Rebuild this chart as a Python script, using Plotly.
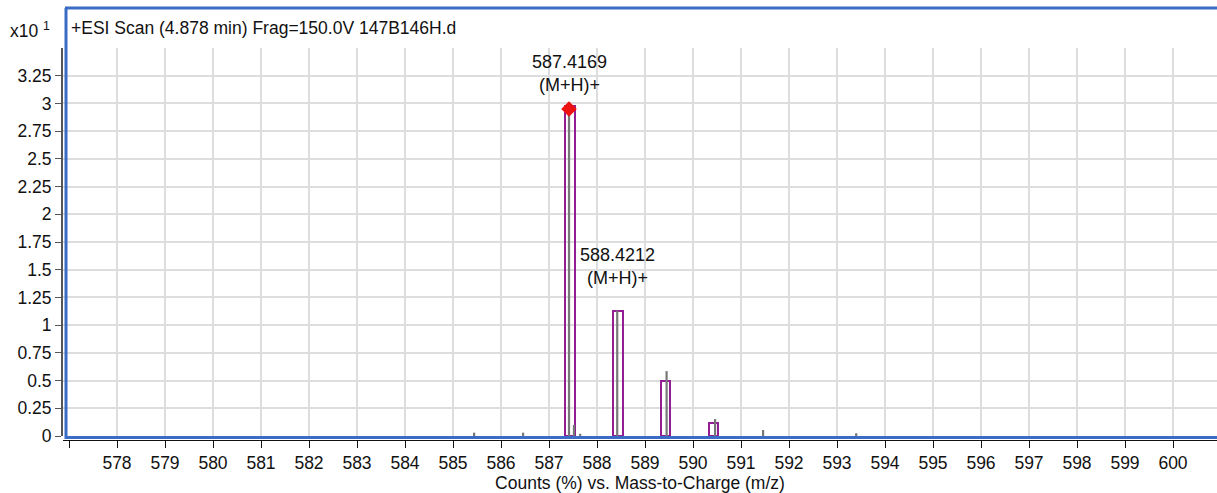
import plotly.graph_objects as go

# Observed centroid sticks (m/z, counts x10^1)
stick_mz = [585.44, 586.46, 587.4169, 587.52, 587.65, 588.4212, 589.45, 590.46, 591.46, 593.40]
stick_counts = [0.03, 0.03, 2.98, 0.10, 0.02, 1.13, 0.585, 0.153, 0.054, 0.025]

# Predicted isotope pattern boxes
iso_mz = [587.44, 588.44, 589.43, 590.43]
iso_counts = [2.98, 1.13, 0.50, 0.12]

# Labelled peaks
label_mz = [587.4169, 588.4212]
label_counts = [2.98, 1.13]
label_text = ["587.4169<br>(M+H)+", "588.4212<br>(M+H)+"]
label_shift = [9, 21]

x_ticks = list(range(578, 601))
y_ticks = [0, 0.25, 0.5, 0.75, 1, 1.25, 1.5, 1.75, 2, 2.25, 2.5, 2.75, 3, 3.25]
y_ticktext = ["0", "0.25", "0.5", "0.75", "1", "1.25", "1.5", "1.75", "2", "2.25",
              "2.5", "2.75", "3", "3.25"]

title_text = "+ESI Scan (4.878 min) Frag=150.0V 147B146H.d"
x_title = "Counts (%) vs. Mass-to-Charge (m/z)"

FONT = "Liberation Sans, Arial, Helvetica, sans-serif"
BLUE = "#3a6cc6"
PURPLE = "#931d93"
GRID = "#dddddd"
FS = 17.5

W, H = 1217, 493
ML, MR, MT, MB = 63, 0, 48, 53
PW, PH = W - ML - MR, H - MT - MB


def px_x(p):
    return (p - ML) / PW


def px_y(p):
    return (H - MB - p) / PH


fig = go.Figure()

fig.add_trace(go.Bar(
    x=iso_mz, y=iso_counts, width=0.2,
    marker=dict(color="rgba(0,0,0,0)", line=dict(color=PURPLE, width=2)),
    hoverinfo="skip", showlegend=False,
))

sx, sy = [], []
for m, c in zip(stick_mz, stick_counts):
    sx += [m, m, None]
    sy += [0, c, None]
fig.add_trace(go.Scatter(
    x=sx, y=sy, mode="lines",
    line=dict(color="#777777", width=2.2),
    hoverinfo="skip", showlegend=False,
))

fig.add_trace(go.Scatter(
    x=[label_mz[0]], y=[label_counts[0] - 0.03], mode="markers",
    marker=dict(symbol="diamond", size=12, color="#ee1111"),
    hoverinfo="skip", showlegend=False,
))

for m, c, t, s in zip(label_mz, label_counts, label_text, label_shift):
    fig.add_annotation(
        x=m, y=c, text=t, showarrow=False, yanchor="bottom", xanchor="center",
        yshift=s, font=dict(family=FONT, size=18, color="#111111"),
    )

# Blue frame around the scan panel (left, top, bottom)
fig.add_shape(type="line", xref="paper", yref="paper",
              x0=px_x(66), x1=px_x(66), y0=px_y(8), y1=px_y(439),
              line=dict(color=BLUE, width=3))
fig.add_shape(type="line", xref="paper", yref="paper",
              x0=px_x(65), x1=1.0, y0=px_y(8), y1=px_y(8),
              line=dict(color=BLUE, width=3))
fig.add_shape(type="line", xref="paper", yref="paper",
              x0=px_x(65), x1=1.0, y0=px_y(437.5), y1=px_y(437.5),
              line=dict(color=BLUE, width=3))

fig.add_annotation(
    xref="paper", yref="paper", x=px_x(69), y=px_y(28),
    xanchor="left", yanchor="middle", showarrow=False, text=title_text,
    font=dict(family=FONT, size=FS, color="#111111"),
)
fig.add_annotation(
    xref="paper", yref="paper", x=px_x(8), y=px_y(30),
    xanchor="left", yanchor="middle", showarrow=False,
    text="x10 <sup>1</sup>",
    font=dict(family=FONT, size=FS, color="#111111"),
)

x0 = 577 - 6 / 48
x1 = x0 + PW / 48

fig.update_layout(
    width=W, height=H,
    margin=dict(l=ML, r=MR, t=MT, b=MB),
    paper_bgcolor="white", plot_bgcolor="white",
    font=dict(family=FONT, size=FS, color="#111111"),
    bargap=0,
    xaxis=dict(
        range=[x0, x1], tickmode="array", tickvals=x_ticks,
        ticktext=[str(v) for v in x_ticks],
        showgrid=True, gridcolor=GRID, gridwidth=2,
        showline=True, linecolor="#111111", linewidth=1,
        ticks="outside", ticklen=7, tickcolor="#111111", tickwidth=1,
        minor=dict(tickmode="array", tickvals=[577], ticks="outside",
                   ticklen=7, tickcolor="#111111", showgrid=False),
        anchor="free", position=0, zeroline=False,
        title=dict(text=x_title, standoff=4, font=dict(size=FS)),
        tickfont=dict(size=FS),
    ),
    yaxis=dict(
        domain=[4 / PH, 1], range=[0, 3.5], tickmode="array",
        tickvals=y_ticks, ticktext=y_ticktext,
        showgrid=True, gridcolor=GRID, gridwidth=2,
        showline=True, linecolor="#555555", linewidth=2,
        ticks="outside", ticklen=6, tickcolor="#555555", tickwidth=1,
        zeroline=False, tickfont=dict(size=FS),
    ),
)

fig.write_html("out.html")
